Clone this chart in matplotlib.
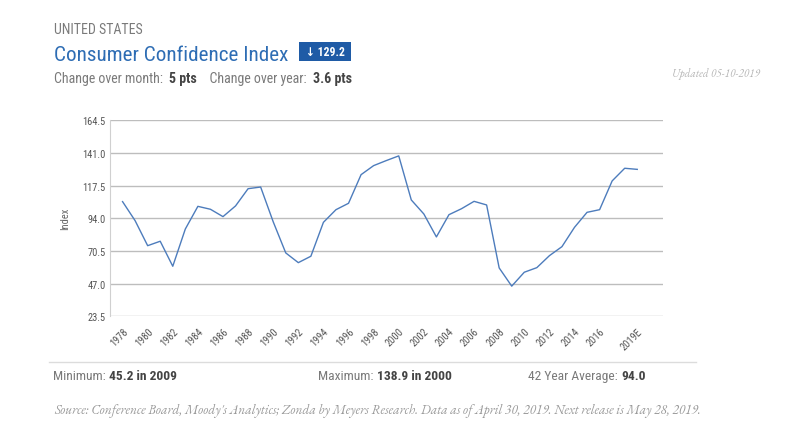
import matplotlib
matplotlib.use("Agg")
import matplotlib.pyplot as plt
from matplotlib.patches import Rectangle

# consumer confidence index, annual
years = list(range(1978, 2020))
values = [106.0, 92.3, 74.3, 77.5, 59.5, 86.3, 102.6, 100.5, 95.2, 102.9,
          115.3, 116.5, 91.5, 69.1, 62.1, 66.7, 91.1, 100.2, 104.8, 125.4,
          131.9, 135.5, 138.9, 107.2, 97.1, 80.6, 96.6, 100.9, 106.2, 103.6,
          58.3, 45.2, 55.2, 58.5, 67.1, 73.6, 87.5, 98.3, 100.2, 120.9,
          130.0, 129.2]
tick_years = list(range(1978, 2018, 2)) + [2019]
tick_labels = [str(y) for y in range(1978, 2018, 2)] + ["2019E"]
y_ticks = [23.5, 47.0, 70.5, 94.0, 117.5, 141.0, 164.5]

COND = ["Roboto Condensed", "DejaVu Sans"]
SERIF = ["EB Garamond", "Liberation Serif"]
GRAY = "#7a7a7a"
DARK = "#444444"
BLUE = "#2e6db4"

fig = plt.figure(figsize=(8, 4.27), dpi=100)
W, H = 800, 427


def fx(px):
    return px / W


def fy(py):
    return 1 - py / H


def put_run(x, y, pieces, size):
    # lay out text pieces one after another on one baseline
    r = fig.canvas.get_renderer()
    for txt, weight, color in pieces:
        t = fig.text(fx(x), fy(y), txt, fontsize=size, fontweight=weight,
                     color=color, family=COND, fontstretch="condensed",
                     va="baseline", ha="left")
        bb = t.get_window_extent(renderer=r)
        x += bb.width


# header
fig.text(fx(54), fy(34), "UNITED STATES", fontsize=10, color=GRAY,
         family=COND, fontstretch="condensed", va="baseline")
fig.text(fx(54), fy(61), "Consumer Confidence Index", fontsize=15.2,
         color=BLUE, family=COND, fontstretch="condensed", va="baseline")
fig.add_artist(Rectangle((fx(299), fy(62)), fx(52), fy(43) - fy(62),
                         transform=fig.transFigure, fc="#1f5ba6", ec="none"))
fig.text(fx(325), fy(53), "\u2193 129.2", fontsize=8.5, color="white",
         fontweight="bold", family=COND, fontstretch="condensed",
         ha="center", va="center")
put_run(54, 83, [("Change over month:  ", "normal", GRAY),
                 ("5 pts", "bold", DARK),
                 ("    Change over year:  ", "normal", GRAY),
                 ("3.6 pts", "bold", DARK)], 10)
fig.text(fx(760), fy(77), "Updated 05-10-2019", fontsize=8,
         color="#b5b5b5", style="italic", family=SERIF, ha="right",
         va="baseline")

# chart
ax = fig.add_axes([fx(110), fy(317.3), fx(663) - fx(110),
                   fy(121.3) - fy(317.3)])
ax.plot(years, values, color="#4d7cbc", lw=1.0)
ax.set_xlim(1977.0, 2021.05)
ax.set_ylim(23.5, 164.5)
ax.set_yticks(y_ticks)
ax.set_yticklabels(["%.1f" % v for v in y_ticks])
ax.set_xticks(tick_years)
ax.set_xticklabels(tick_labels, rotation=45, ha="right",
                   rotation_mode="anchor")
ax.grid(axis="y", color="#bdbdbd", lw=1.0)
ax.set_axisbelow(True)
for s in ["top", "right", "bottom"]:
    ax.spines[s].set_visible(False)
ax.spines["left"].set_color("#d0d0d0")
ax.spines["left"].set_linewidth(0.8)
ax.tick_params(length=0, labelsize=7.5, labelcolor="#555555", pad=3)
ax.tick_params(axis="x", pad=7)
for lab in ax.get_xticklabels() + ax.get_yticklabels():
    lab.set_family(COND)
    lab.set_fontstretch("condensed")
ax.set_ylabel("Index", fontsize=7.5, color="#666666", family=COND,
              fontstretch="condensed", labelpad=9)

# footer
fig.add_artist(plt.Line2D([fx(49), fx(696)], [fy(362.7), fy(362.7)],
                          color="#dcdcdc", lw=1.0))
put_run(53, 380, [("Minimum: ", "normal", GRAY),
                  ("45.2 in 2009", "bold", DARK)], 9.7)
put_run(318, 380, [("Maximum: ", "normal", GRAY),
                   ("138.9 in 2000", "bold", DARK)], 9.7)
put_run(528, 380, [("42 Year Average: ", "normal", GRAY),
                   ("94.0", "bold", DARK)], 9.7)
fig.text(fx(54), fy(414),
         "Source: Conference Board, Moody's Analytics; Zonda by Meyers "
         "Research. Data as of April 30, 2019. Next release is May 28, 2019.",
         fontsize=9.6, color="#999999", style="italic", family=SERIF,
         va="baseline")

fig.savefig("out.png", dpi=100, facecolor="white")
